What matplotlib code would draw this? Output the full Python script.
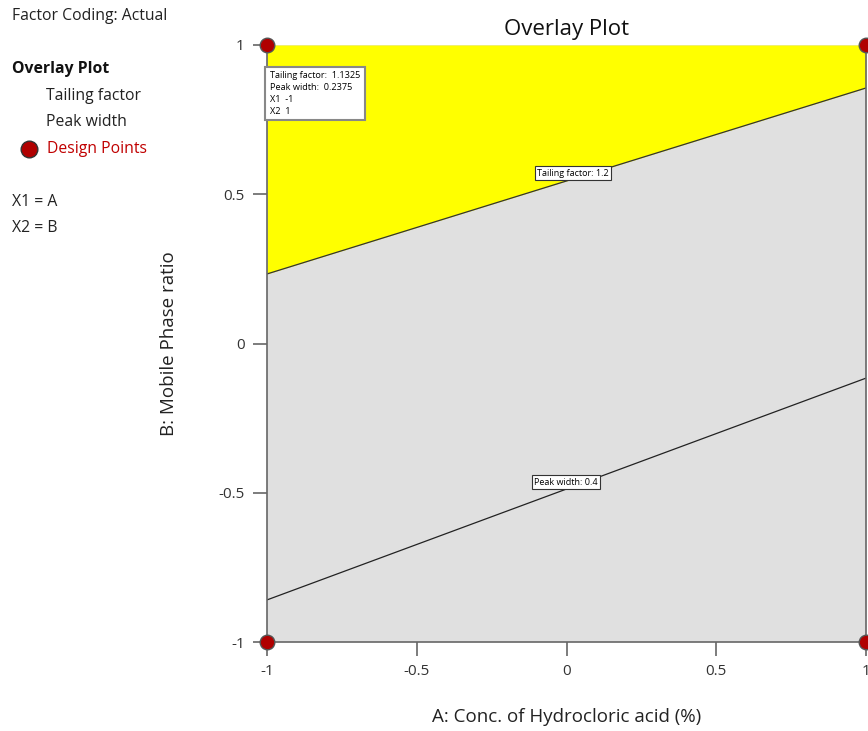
import matplotlib
matplotlib.use("Agg")
import matplotlib.pyplot as plt

plt.rcParams['font.family'] = ['Open Sans', 'DejaVu Sans']

# Data
design_x = [-1, 1, -1, 1]
design_y = [1, 1, -1, -1]
tailing_x = [-1, 1]
tailing_y = [0.233, 0.856]        # Tailing factor = 1.2 contour
peak_x = [-1, 1]
peak_y = [-0.859, -0.116]         # Peak width = 0.4 contour
xticks = [-1, -0.5, 0, 0.5, 1]
yticks = [-1, -0.5, 0, 0.5, 1]
xtick_labels = ['-1', '-0.5', '0', '0.5', '1']
ytick_labels = ['-1', '-0.5', '0', '0.5', '1']

fig = plt.figure(figsize=(8.68, 7.31), dpi=100)
ax = fig.add_axes([267/868, 89/731, 599/868, 597/731])

ax.set_xlim(-1, 1)
ax.set_ylim(-1, 1)
ax.set_facecolor('#E0E0E0')
ax.fill_between(tailing_x, tailing_y, [1, 1], color='#FFFF00', linewidth=0, zorder=1)
ax.plot(tailing_x, tailing_y, color='#333333', lw=0.9, zorder=2)
ax.plot(peak_x, peak_y, color='#222222', lw=0.9, zorder=2)

ax.scatter(design_x, design_y, s=110, color='#B00000', edgecolors='#555555',
           linewidths=1.0, zorder=5, clip_on=False)

ax.spines['top'].set_visible(False)
for s in ['left', 'bottom', 'right']:
    ax.spines[s].set_color('#666666')
    ax.spines[s].set_linewidth(1.2)

ax.set_xticks(xticks)
ax.set_xticklabels(xtick_labels)
ax.set_yticks(yticks)
ax.set_yticklabels(ytick_labels)
ax.tick_params(direction='out', length=10, width=1.2, color='#666666',
               labelsize=11, pad=6, labelcolor='#333333')

ax.set_title('Overlay Plot', fontsize=16, pad=7, color='#111111')
ax.set_xlabel('A: Conc. of Hydrocloric acid (%)', fontsize=13.5, labelpad=21, color='#222222')
ax.set_ylabel('B: Mobile Phase ratio', fontsize=13.5, labelpad=29, color='#222222')

bbox = dict(boxstyle='square,pad=0.25', fc='white', ec='#333333', lw=0.8)
ax.text(0.022, 0.571, 'Tailing factor: 1.2', fontsize=6.5, ha='center', va='center',
        bbox=bbox, zorder=6)
ax.text(-0.001, -0.464, 'Peak width: 0.4', fontsize=6.5, ha='center', va='center',
        bbox=bbox, zorder=6)

ax.text(-0.99, 0.912, 'Tailing factor:  1.1325\nPeak width:  0.2375\nX1  -1\nX2  1',
        fontsize=6.6, ha='left', va='top', linespacing=1.4,
        bbox=dict(boxstyle='square,pad=0.5', fc='white', ec='#888888', lw=1.5), zorder=6)

# Left side legend texts
fs = 11.3
fig.text(12/868, 1 - 16/731, 'Factor Coding: Actual', fontsize=fs, va='center', color='#222222')
fig.text(12/868, 1 - 69/731, 'Overlay Plot', fontsize=fs, va='center', weight='bold', color='#111111')
fig.text(46/868, 1 - 96/731, 'Tailing factor', fontsize=fs, va='center', color='#222222')
fig.text(46/868, 1 - 122/731, 'Peak width', fontsize=fs, va='center', color='#222222')
fig.text(47/868, 1 - 149/731, 'Design Points', fontsize=fs, va='center', color='#C00000')
fig.lines.append(plt.Line2D([29/868], [1 - 149/731], marker='o', markersize=12,
                            color='#B00000', markeredgecolor='#333333', markeredgewidth=1,
                            transform=fig.transFigure))
fig.text(12/868, 1 - 202/731, 'X1 = A', fontsize=fs, va='center', color='#222222')
fig.text(12/868, 1 - 228/731, 'X2 = B', fontsize=fs, va='center', color='#222222')

fig.savefig('out.png', dpi=100)
